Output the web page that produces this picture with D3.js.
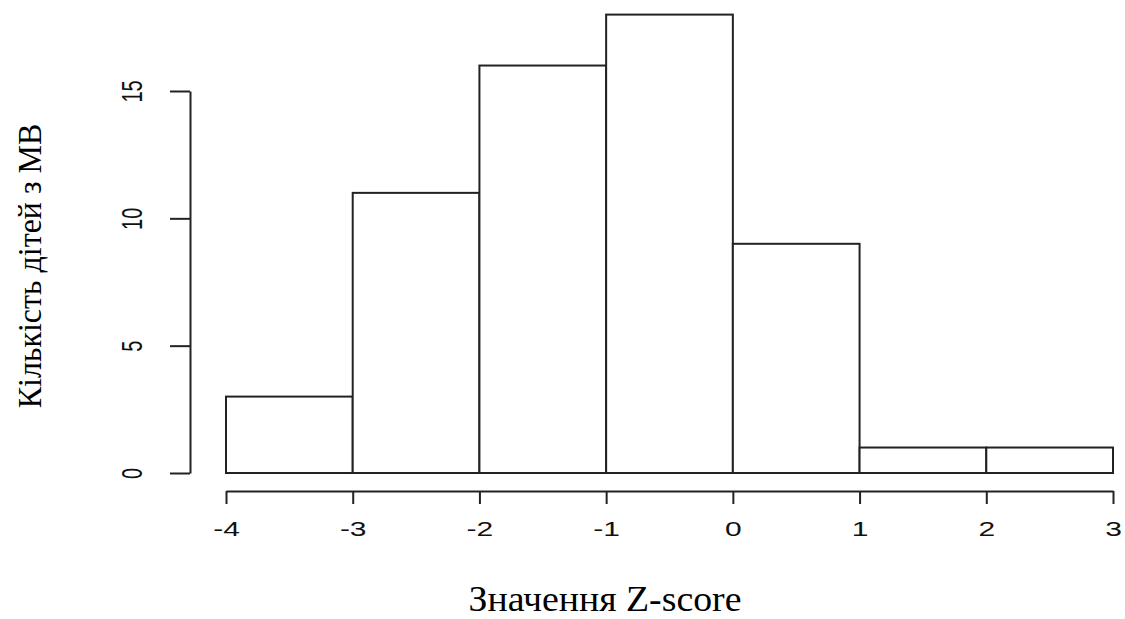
<!DOCTYPE html>
<html><head><meta charset="utf-8">
<script src="https://cdn.jsdelivr.net/npm/d3@7"></script>
<style>body{margin:0;background:#fff}</style>
</head><body>
<script>
const binStarts = [-4, -3, -2, -1, 0, 1, 2];
const binEnds = [-3, -2, -1, 0, 1, 2, 3];
const counts = [3, 11, 16, 18, 9, 1, 1];
const xTicks = [-4, -3, -2, -1, 0, 1, 2, 3];
const yTicks = [0, 5, 10, 15];
const xTitle = "Значення Z-score";
const yTitle = "Кількість дітей з МВ";

const W = 1125, H = 619;
const svg = d3.select("body").append("svg").attr("width", W).attr("height", H);
const x = d3.scaleLinear().domain([-4, 3]).range([226, 1113]);
const y = d3.scaleLinear().domain([0, 15]).range([473, 91]);
const stroke = "#222";
const tickFont = "Liberation Sans, Arial, sans-serif";

svg.append("g").selectAll("rect").data(counts).join("rect")
  .attr("x", (d, i) => x(binStarts[i]))
  .attr("width", (d, i) => x(binEnds[i]) - x(binStarts[i]))
  .attr("y", d => y(d))
  .attr("height", d => y(0) - y(d))
  .attr("fill", "#fff").attr("stroke", stroke).attr("stroke-width", 2);

// x axis
const xa = svg.append("g").attr("transform", "translate(0,491)")
  .call(d3.axisBottom(x).tickValues(xTicks).tickSize(13).tickSizeOuter(0)
    .tickFormat(d => d < 0 ? "-" + Math.abs(d) : d));
xa.select(".domain").attr("stroke", stroke).attr("stroke-width", 2);
xa.selectAll(".tick line").attr("stroke", stroke).attr("stroke-width", 2);
xa.selectAll("text").attr("font-family", tickFont).attr("font-size", 20).attr("fill", "#111")
  .attr("y", 0).attr("dy", 0).attr("text-anchor", "middle")
  .attr("transform", "translate(0,45) scale(1.5,1)");

// y axis
const ya = svg.append("g").attr("transform", "translate(190,0)")
  .call(d3.axisLeft(y).tickValues(yTicks).tickSize(20).tickSizeOuter(0));
ya.select(".domain").attr("stroke", stroke).attr("stroke-width", 2);
ya.selectAll(".tick line").attr("stroke", stroke).attr("stroke-width", 2);
ya.selectAll("text")
  .attr("font-family", tickFont).attr("font-size", 20).attr("fill", "#111")
  .attr("x", 0).attr("y", 0).attr("dy", 0)
  .attr("text-anchor", "middle")
  .attr("transform", "translate(-48,0) scale(1.5,1) rotate(-90)");

svg.append("text").attr("x", 0).attr("y", 0).attr("text-anchor", "middle")
  .attr("transform", "translate(605,611) scale(1.05,1)")
  .attr("font-family", "Liberation Serif, Times New Roman, serif").attr("font-size", 36).attr("fill", "#000")
  .text(xTitle);
svg.append("text").attr("transform", "translate(41,266) rotate(-90) scale(0.94,1)").attr("text-anchor", "middle")
  .attr("font-family", "Liberation Serif, Times New Roman, serif").attr("font-size", 34).attr("fill", "#000")
  .text(yTitle);
</script>
</body></html>
